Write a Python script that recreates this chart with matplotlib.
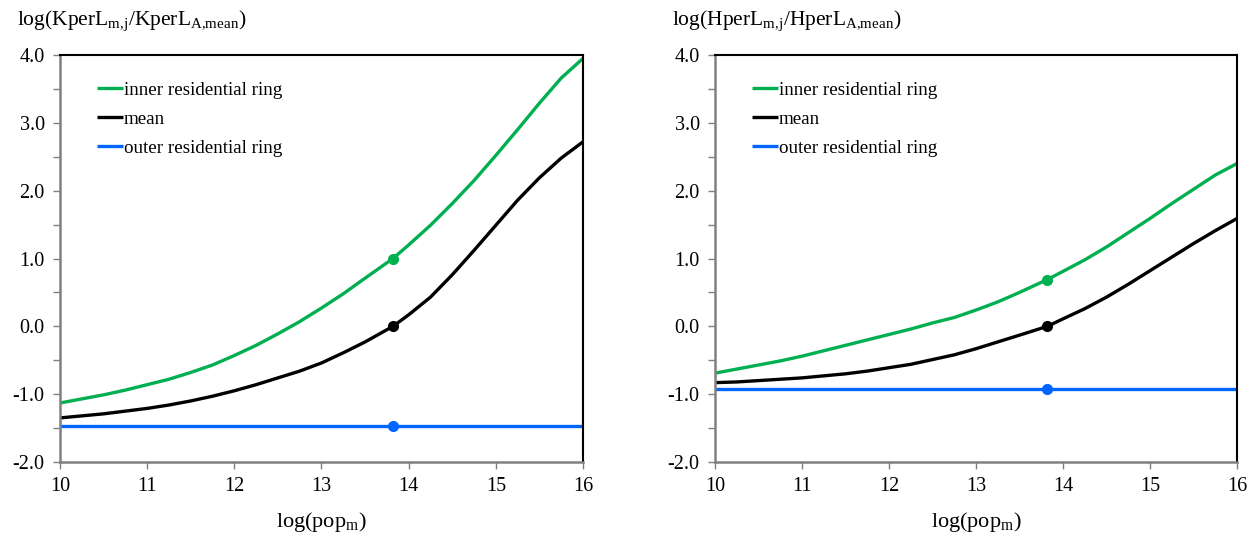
"""Two panels: log capital / housing per worker relative to mean vs log population."""

import matplotlib

matplotlib.use("Agg")

import matplotlib.pyplot as plt
from matplotlib.ticker import MultipleLocator

plt.rcParams["font.family"] = ["Liberation Serif", "DejaVu Serif"]
plt.rcParams["mathtext.fontset"] = "custom"
plt.rcParams["mathtext.rm"] = "Liberation Serif"
plt.rcParams["mathtext.default"] = "regular"

GREEN = "#00B050"
BLUE = "#0066FF"
GREY = "#808080"

log_pop = [10.0, 10.25, 10.5, 10.75, 11.0, 11.25, 11.5, 11.75, 12.0, 12.25, 12.5, 12.75,
           13.0, 13.25, 13.5, 13.82, 14.0, 14.25, 14.5, 14.75, 15.0, 15.25, 15.5, 15.75, 16.0]
x_point = 13.82

# left panel: KperL
k_inner = [-1.13, -1.07, -1.01, -0.94, -0.86, -0.78, -0.68, -0.57, -0.43, -0.28, -0.11, 0.07,
           0.27, 0.48, 0.71, 1.00, 1.20, 1.49, 1.81, 2.15, 2.52, 2.90, 3.29, 3.66, 3.95]
k_mean = [-1.35, -1.32, -1.29, -1.25, -1.21, -1.16, -1.10, -1.03, -0.95, -0.86, -0.76, -0.66,
          -0.54, -0.39, -0.23, 0.00, 0.17, 0.43, 0.76, 1.12, 1.49, 1.86, 2.19, 2.48, 2.72]
k_outer = [-1.47] * len(log_pop)
k_points = [1.00, 0.00, -1.47]

# right panel: HperL
h_inner = [-0.69, -0.63, -0.57, -0.51, -0.44, -0.36, -0.28, -0.20, -0.12, -0.04, 0.05, 0.13,
           0.24, 0.36, 0.50, 0.69, 0.81, 0.98, 1.17, 1.38, 1.59, 1.81, 2.02, 2.23, 2.40]
h_mean = [-0.83, -0.82, -0.80, -0.78, -0.76, -0.73, -0.70, -0.66, -0.61, -0.56, -0.49, -0.42,
          -0.33, -0.23, -0.13, 0.00, 0.11, 0.26, 0.43, 0.62, 0.82, 1.02, 1.22, 1.41, 1.59]
h_outer = [-0.92] * len(log_pop)
h_points = [0.69, 0.00, -0.92]

labels = ["inner residential ring", "mean", "outer residential ring"]
colors = [GREEN, "black", BLUE]

panels = [
    (r"log(KperL$_{m{,}j}$/KperL$_{A{,}mean}$)", [k_inner, k_mean, k_outer], k_points),
    (r"log(HperL$_{m{,}j}$/HperL$_{A{,}mean}$)", [h_inner, h_mean, h_outer], h_points),
]

fig = plt.figure(figsize=(12.51, 5.35), dpi=100)
rects = [
    [60 / 1251, 73 / 535, 523 / 1251, 407 / 535],
    [715 / 1251, 73 / 535, 522 / 1251, 407 / 535],
]

for rect, (ylabel, series, points) in zip(rects, panels):
    ax = fig.add_axes(rect)
    for ys, py, color, label in zip(series, points, colors, labels):
        ax.plot(log_pop, ys, color=color, lw=2.4, label=label, solid_capstyle="butt",
                solid_joinstyle="round")
        ax.plot([x_point], [py], "o", color=color, ms=7, zorder=5)

    ax.set_xlim(10, 16)
    ax.set_ylim(-2, 4)
    ax.xaxis.set_major_locator(MultipleLocator(1))
    ax.yaxis.set_major_locator(MultipleLocator(1))
    ax.yaxis.set_minor_locator(MultipleLocator(0.5))
    ax.yaxis.set_major_formatter(lambda v, _: f"{v:.1f}")
    ax.tick_params(axis="both", which="both", direction="out", color=GREY,
                   labelsize=14.5, width=1)
    ax.tick_params(axis="x", length=5, pad=6)
    ax.tick_params(axis="y", which="major", length=5, pad=6)
    ax.tick_params(axis="y", which="minor", length=5)

    for side in ("left", "bottom"):
        ax.spines[side].set_color(GREY)
        ax.spines[side].set_linewidth(1.8)
    for side in ("top", "right"):
        ax.spines[side].set_color("black")
        ax.spines[side].set_linewidth(1.5)

    ax.set_xlabel(r"log(pop$_m$)", fontsize=16, labelpad=10)
    ax.text(-0.083, 1.085, ylabel, transform=ax.transAxes, fontsize=15.5,
            ha="left", va="center")

    ax.legend(loc="upper left", bbox_to_anchor=(0.071, 0.935), frameon=False,
              fontsize=13.7, handlelength=1.35, handletextpad=0.05,
              labelspacing=0.62, borderaxespad=0, borderpad=0)

fig.savefig("out.png", dpi=100)
plt.close(fig)
